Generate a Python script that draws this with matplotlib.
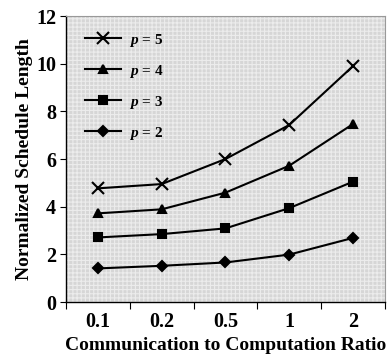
import numpy as np
import matplotlib
matplotlib.use("Agg")
import matplotlib.pyplot as plt
from matplotlib.patches import Rectangle

# data
ratios = ["0.1", "0.2", "0.5", "1", "2"]
p2 = [1.41, 1.52, 1.66, 1.99, 2.69]
p3 = [2.71, 2.85, 3.09, 3.94, 5.05]
p4 = [3.72, 3.89, 4.59, 5.72, 7.47]
p5 = [4.77, 4.95, 6.00, 7.43, 9.90]

plt.rcParams['font.family'] = ['Liberation Serif', 'DejaVu Serif']
plt.rcParams['font.weight'] = 'bold'
plt.rcParams['mathtext.fontset'] = 'custom'
plt.rcParams['mathtext.it'] = 'Liberation Serif:italic:bold'
plt.rcParams['mathtext.rm'] = 'Liberation Serif:bold'
plt.rcParams['hatch.linewidth'] = 0.8

fig = plt.figure(figsize=(3.88, 3.57), dpi=100)
ax = fig.add_axes([0.170, 0.154, 0.822, 0.801])

# stippled gray background
ax.set_facecolor('#d6d6d6')
bg = Rectangle((0, 0), 1, 1, transform=ax.transAxes, facecolor='none',
               edgecolor='#ececec', hatch='++++', linewidth=0, zorder=0)
ax.add_patch(bg)

x = np.arange(len(ratios))
series = [(p5, 'x', 8, "5"), (p4, '^', 6, "4"), (p3, 's', 6, "3"), (p2, 'D', 5, "2")]
for vals, mk, ms, lab in series:
    ax.plot(x, vals, color='black', lw=1.5, marker=mk, ms=ms,
            mew=1.5, label=f"$p$ = {lab}", zorder=3)

ax.set_xlim(-0.5, 4.5)
ax.set_ylim(0, 12)
ax.set_yticks(np.arange(0, 13, 2))
ax.set_xticks(np.arange(-0.5, 5, 1))
ax.set_xticklabels([])
ax.set_xticks(x, minor=True)
ax.set_xticklabels(ratios, minor=True)
ax.tick_params(axis='x', which='minor', length=0, pad=7, labelsize=14.5)
ax.tick_params(axis='x', which='major', length=5, direction='out')
ax.tick_params(axis='y', length=4, direction='out', labelsize=14.5, pad=3)

for s in ['top', 'right']:
    ax.spines[s].set_color('#999999')
for s in ['left', 'bottom']:
    ax.spines[s].set_color('black')
    ax.spines[s].set_linewidth(1.0)

ax.set_xlabel("Communication to Computation Ratio", fontsize=14, fontweight='bold', labelpad=4)
ax.set_ylabel("Normalized Schedule Length", fontsize=14, fontweight='bold', labelpad=2)

ax.legend(loc='upper left', frameon=False, fontsize=11, handlelength=2.4,
          handletextpad=0.5, labelspacing=0.92, borderaxespad=0.2,
          bbox_to_anchor=(0.03, 0.978))

fig.savefig("out.png", dpi=100)
